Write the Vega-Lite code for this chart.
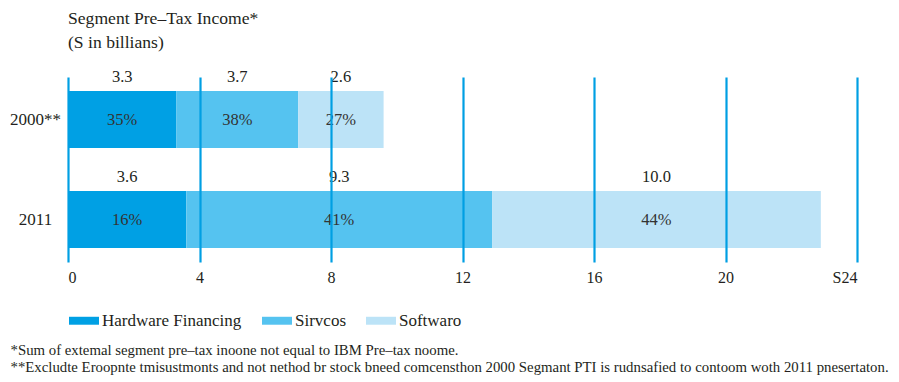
{
  "$schema": "https://vega.github.io/schema/vega-lite/v6.json",
  "width": 789,
  "height": 185,
  "autosize": {"type": "none"},
  "padding": {"left": 68, "top": 77, "right": 42, "bottom": 120},
  "background": "white",
  "title": {
    "text": ["Segment Pre–Tax Income*", "(S in billians)"],
    "anchor": "start",
    "frame": "group",
    "offset": 17,
    "fontSize": 17.6,
    "font": "Liberation Serif",
    "fontWeight": "normal",
    "color": "#231f20",
    "lineHeight": 24
  },
  "config": {"view": {"stroke": null}, "font": "Liberation Serif"},
  "data": {
    "values": [
      {"year": "2000**", "segment": "Hardware Financing", "value": 3.3, "pct": "35%", "order": 1},
      {"year": "2000**", "segment": "Sirvcos", "value": 3.7, "pct": "38%", "order": 2},
      {"year": "2000**", "segment": "Softwaro", "value": 2.6, "pct": "27%", "order": 3},
      {"year": "2011", "segment": "Hardware Financing", "value": 3.6, "pct": "16%", "order": 1},
      {"year": "2011", "segment": "Sirvcos", "value": 9.3, "pct": "41%", "order": 2},
      {"year": "2011", "segment": "Softwaro", "value": 10.0, "pct": "44%", "order": 3}
    ]
  },
  "transform": [
    {"stack": "value", "groupby": ["year"], "sort": [{"field": "order", "order": "ascending"}], "as": ["x0", "x1"]},
    {"calculate": "(datum.x0 + datum.x1) / 2", "as": "mid"}
  ],
  "encoding": {
    "y": {
      "field": "year",
      "type": "nominal",
      "sort": ["2000**", "2011"],
      "scale": {"paddingInner": 0.43, "paddingOuter": 0.14},
      "axis": {
        "title": null,
        "domain": false,
        "ticks": false,
        "labelAlign": "center",
        "labelPadding": 33,
        "labelFontSize": 17,
        "labelFont": "Liberation Serif",
        "labelColor": "#231f20"
      }
    }
  },
  "layer": [
    {
      "mark": {"type": "bar"},
      "encoding": {
        "x": {
          "field": "x0",
          "type": "quantitative",
          "scale": {"domain": [0, 24], "nice": false, "zero": true},
          "axis": {
            "values": [0, 4, 8, 12, 16, 20, 24],
            "labelExpr": "datum.value == 24 ? 'S24' : datum.label",
            "grid": true,
            "gridColor": "#009fe3",
            "gridWidth": 2.2,
            "gridOpacity": 1,
            "domain": false,
            "ticks": false,
            "labelPadding": 7,
            "labelFontSize": 16,
            "labelFont": "Liberation Serif",
            "labelColor": "#231f20",
            "zindex": 1,
            "title": [
              "\u00a0\u00a0\u00a0\u00a0\u00a0\u00a0*Sum of extemal segment pre–tax inoone not equal to IBM Pre–tax noome.",
              "**Excludte Eroopnte tmisustmonts and not nethod br stock bneed comcensthon 2000 Segmant PTI is rudnsafied to contoom woth 2011 pnesertaton."
            ],
            "titleAnchor": "start",
            "titleAlign": "left",
            "titleBaseline": "top",
            "titleX": -58,
            "titleY": 80,
            "titleFont": "Liberation Serif",
            "titleFontSize": 14.8,
            "titleFontWeight": "normal",
            "titleColor": "#231f20",
            "titleLineHeight": 17
          }
        },
        "x2": {"field": "x1"},
        "color": {
          "field": "segment",
          "type": "nominal",
          "scale": {
            "domain": ["Hardware Financing", "Sirvcos", "Softwaro"],
            "range": ["#00a0e4", "#55c3f0", "#bce3f7"]
          },
          "legend": {
            "orient": "none",
            "legendX": 0,
            "legendY": 235,
            "direction": "horizontal",
            "title": null,
            "symbolType": "M-1,-0.53L3,-0.53L3,0.53L-1,0.53Z",
            "symbolSize": 225,
            "symbolStrokeWidth": 0,
            "labelFontSize": 17,
            "labelFont": "Liberation Serif",
            "labelColor": "#231f20",
            "labelOffset": 17,
            "columnPadding": 19
          }
        }
      }
    },
    {
      "mark": {"type": "text", "dy": -43, "fontSize": 16.5, "font": "Liberation Serif", "color": "#231f20"},
      "encoding": {
        "x": {"field": "mid", "type": "quantitative"},
        "text": {"field": "value", "type": "quantitative", "format": ".1f"}
      }
    },
    {
      "mark": {"type": "text", "fontSize": 16.5, "font": "Liberation Serif", "color": "#333333"},
      "encoding": {
        "x": {"field": "mid", "type": "quantitative"},
        "text": {"field": "pct", "type": "nominal"}
      }
    }
  ]
}
